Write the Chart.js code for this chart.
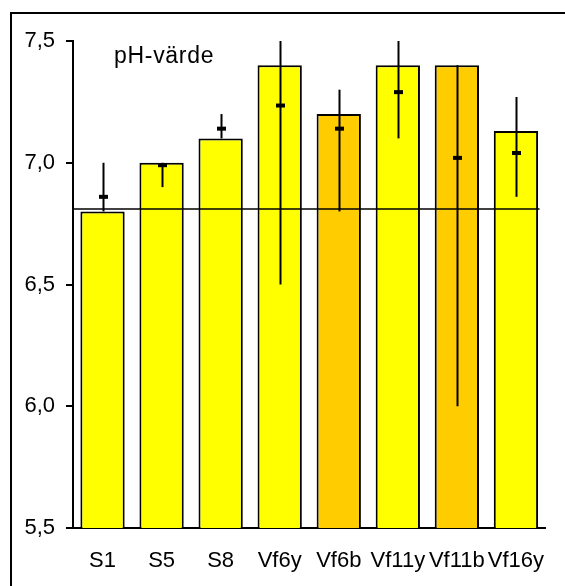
<!DOCTYPE html>
<html>
<head>
<meta charset="utf-8">
<script src="https://cdn.jsdelivr.net/npm/chart.js@4/dist/chart.umd.min.js"></script>
<style>
  html, body { margin: 0; padding: 0; background: #fff; }
  #wrap { position: relative; width: 565px; height: 586px; }
</style>
</head>
<body>
<div id="wrap"><canvas id="c" width="565" height="586"></canvas></div>
<script>
// pH per sampling site
const sites = ['S1', 'S5', 'S8', 'Vf6y', 'Vf6b', 'Vf11y', 'Vf11b', 'Vf16y'];
const phValues = [6.80, 7.00, 7.10, 7.40, 7.20, 7.40, 7.40, 7.13];
const phMeans = [6.86, 6.99, 7.14, 7.235, 7.14, 7.29, 7.02, 7.04];
const rangeLow = [6.80, 6.90, 7.10, 6.50, 6.80, 7.10, 6.00, 6.86];
const rangeHigh = [7.00, 7.00, 7.20, 7.50, 7.30, 7.50, 7.40, 7.27];
const referencePh = 6.81;
const yTicks = [5.5, 6.0, 6.5, 7.0, 7.5];
const chartTitle = 'pH-värde';

const YELLOW = '#FFFF00';
const ORANGE = '#FFCC00';
const barColors = sites.map(s => s.endsWith('b') ? ORANGE : YELLOW);
const FONT = '"Liberation Sans", Arial, sans-serif';

// frame, reference line, ranges, means and heading
const extras = {
  id: 'extras',
  beforeDraw(chart) {
    const ctx = chart.ctx;
    ctx.save();
    ctx.strokeStyle = '#000';
    ctx.lineWidth = 2;
    ctx.beginPath();
    ctx.moveTo(11, 586);
    ctx.lineTo(11, 13);
    ctx.lineTo(565, 13);
    ctx.stroke();
    ctx.restore();
  },
  afterDatasetsDraw(chart) {
    const ctx = chart.ctx;
    const x = chart.scales.x, y = chart.scales.y;
    const area = chart.chartArea;
    ctx.save();
    // reference level
    ctx.strokeStyle = '#000';
    ctx.lineWidth = 1.5;
    const ry = y.getPixelForValue(referencePh);
    ctx.beginPath();
    ctx.moveTo(area.left, ry);
    ctx.lineTo(area.right - 6, ry);
    ctx.stroke();
    // ranges and means
    sites.forEach((s, i) => {
      const cx = Math.round(x.getPixelForValue(i)) + 0.5;
      ctx.lineWidth = 2;
      ctx.beginPath();
      ctx.moveTo(cx, y.getPixelForValue(rangeHigh[i]));
      ctx.lineTo(cx, y.getPixelForValue(rangeLow[i]));
      ctx.stroke();
      const my = y.getPixelForValue(phMeans[i]);
      ctx.fillStyle = '#000';
      ctx.fillRect(cx - 4.5, my - 2, 9, 4);
    });
    // heading inside the plot
    ctx.fillStyle = '#000';
    ctx.font = '23px ' + FONT;
    ctx.letterSpacing = '0.7px';
    ctx.textBaseline = 'alphabetic';
    ctx.textAlign = 'left';
    ctx.fillText(chartTitle, 114, 63);
    ctx.restore();
  }
};

new Chart(document.getElementById('c'), {
  type: 'bar',
  data: {
    labels: sites,
    datasets: [{
      data: phValues,
      backgroundColor: barColors,
      borderColor: '#000',
      borderWidth: 2,
      barPercentage: 0.75,
      categoryPercentage: 1.0
    }]
  },
  options: {
    responsive: false,
    animation: false,
    devicePixelRatio: 1,
    layout: { padding: { left: 0, right: 15, top: 41, bottom: 0 } },
    plugins: { legend: { display: false }, tooltip: { enabled: false }, title: { display: false } },
    scales: {
      x: {
        grid: { display: false, drawTicks: false },
        border: { display: true, color: '#000', width: 2 },
        ticks: { color: '#000', font: { family: FONT, size: 22 }, padding: 20, maxRotation: 0, autoSkip: false },
        afterFit(scale) { scale.height = 58; }
      },
      y: {
        min: 5.5,
        max: 7.5,
        afterBuildTicks(scale) { scale.ticks = yTicks.map(v => ({ value: v })); },
        grid: { drawOnChartArea: false, drawTicks: true, tickLength: 7, color: '#000', lineWidth: 2 },
        border: { display: true, color: '#000', width: 2 },
        ticks: {
          color: '#000',
          font: { family: FONT, size: 22 },
          padding: 11,
          callback: v => Number(v).toFixed(1).replace('.', ',')
        },
        afterFit(scale) { scale.width = 73; }
      }
    }
  },
  plugins: [extras]
});
</script>
</body>
</html>
